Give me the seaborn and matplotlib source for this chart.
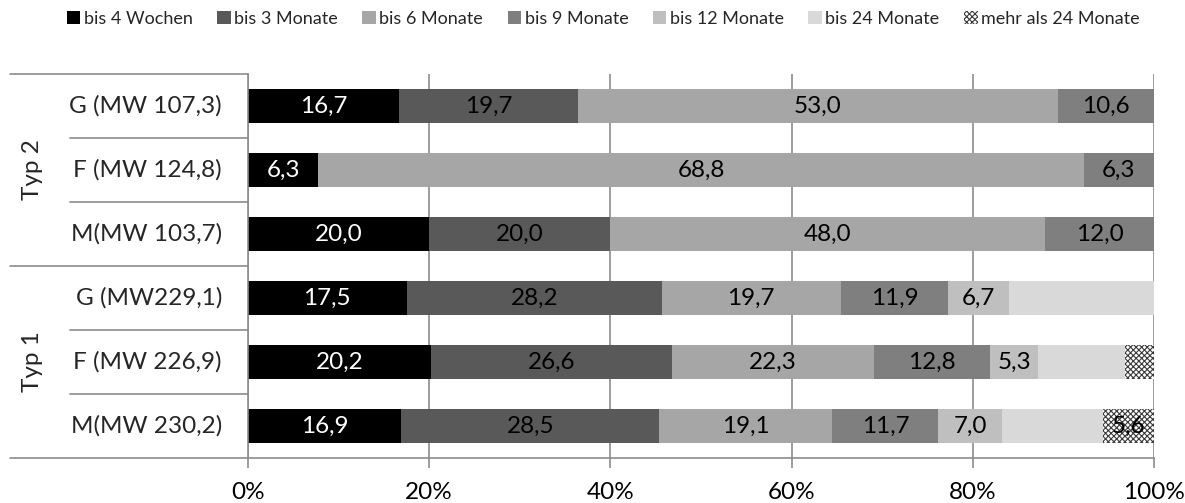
import numpy as np
import matplotlib
matplotlib.use("Agg")
import matplotlib.pyplot as plt
import seaborn as sns
from matplotlib.patches import Patch
from matplotlib.transforms import blended_transform_factory

# Rows from top to bottom, grouped by type
rows = ["G (MW 107,3)", "F (MW 124,8)", "M(MW 103,7)",
        "G (MW229,1)", "F (MW 226,9)", "M(MW 230,2)"]
groups = ["Typ 2", "Typ 1"]
group_rows = [(0, 2), (3, 5)]

periods = ["bis 4 Wochen", "bis 3 Monate", "bis 6 Monate", "bis 9 Monate",
           "bis 12 Monate", "bis 24 Monate", "mehr als 24 Monate"]

bis_4_wochen = [16.7, 6.3, 20.0, 17.5, 20.2, 16.9]
bis_3_monate = [19.7, 0.0, 20.0, 28.2, 26.6, 28.5]
bis_6_monate = [53.0, 68.8, 48.0, 19.7, 22.3, 19.1]
bis_9_monate = [10.6, 6.3, 12.0, 11.9, 12.8, 11.7]
bis_12_monate = [0.0, 0.0, 0.0, 6.7, 5.3, 7.0]
bis_24_monate = [0.0, 0.0, 0.0, 16.0, 9.6, 11.2]
mehr_24_monate = [0.0, 0.0, 0.0, 0.0, 3.2, 5.6]

# segments printed without a value label: (period index, row index)
unlabelled = {(5, 3), (5, 4), (5, 5), (6, 4)}

colors = ["#000000", "#595959", "#a6a6a6", "#7f7f7f", "#bfbfbf", "#d9d9d9", "#ffffff"]

series = [bis_4_wochen, bis_3_monate, bis_6_monate, bis_9_monate,
          bis_12_monate, bis_24_monate, mehr_24_monate]
values = np.array(series, dtype=float)
totals = values.sum(axis=0)

sns.set_theme(style="white")
plt.rcParams["font.family"] = ["Lato", "DejaVu Sans"]
plt.rcParams["hatch.linewidth"] = 0.8

fig = plt.figure(figsize=(11.85, 5.03), dpi=100)
ax = fig.add_axes([248 / 1185, 1 - 458 / 503, 906 / 1185, 384 / 503])

FS = 17.5
grid_col = "#8c8c8c"
left = np.zeros(len(rows))
for k, (name, vals, col) in enumerate(zip(periods, values, colors)):
    share = vals / totals * 100
    if k == 6:
        extra = dict(hatch="xxxxxx", edgecolor="#3a3a3a", linewidth=0)
    else:
        extra = dict(linewidth=0)
    sns.barplot(x=share, y=rows, order=rows, orient="h", color=col,
                saturation=1, width=0.52, errorbar=None, left=left.copy(),
                ax=ax, **extra)
    for i, (v, s) in enumerate(zip(vals, share)):
        if v > 0 and (k, i) not in unlabelled:
            ax.text(left[i] + s / 2, i, f"{v:.1f}".replace(".", ","),
                    ha="center", va="center", fontsize=FS,
                    color="white" if k == 0 else "black")
    left += share

ax.set_xlim(0, 100)
ax.set_ylim(5.5, -0.5)
ax.set_yticks([])
ax.set_xlabel("")
ax.set_ylabel("")
ax.set_xticks(np.arange(0, 101, 20))
ax.set_xticklabels([f"{t}%" for t in range(0, 101, 20)], fontsize=FS)
ax.tick_params(axis="x", length=7, width=1.2, color=grid_col, pad=10,
               labelcolor="black", bottom=True)
ax.xaxis.grid(True, color=grid_col, linewidth=1.2)
ax.set_axisbelow(True)
for side in ["top", "right"]:
    ax.spines[side].set_visible(False)
for side in ["left", "bottom"]:
    ax.spines[side].set_color(grid_col)
    ax.spines[side].set_linewidth(1.2)

# category table on the left
trans = blended_transform_factory(ax.transAxes, ax.transData)
x_outer = (10 - 248) / 906
x_inner = (70 - 248) / 906
for b in [-0.5, 2.5, 5.5]:
    ax.plot([x_outer, 0], [b, b], transform=trans, clip_on=False,
            color=grid_col, linewidth=1.2)
for b in [0.5, 1.5, 3.5, 4.5]:
    ax.plot([x_inner, 0], [b, b], transform=trans, clip_on=False,
            color=grid_col, linewidth=1.2)
for i, r in enumerate(rows):
    ax.text((222 - 248) / 906, i, r, transform=trans, ha="right", va="center",
            fontsize=FS)
for g, (a, b) in zip(groups, group_rows):
    ax.text((33 - 248) / 906, (a + b) / 2, g, transform=trans, ha="center",
            va="center", rotation=90, fontsize=FS)

handles = []
for k, col in enumerate(colors):
    if k == 6:
        handles.append(Patch(facecolor=col, edgecolor="#3a3a3a", hatch="xxxxxx",
                             linewidth=0))
    else:
        handles.append(Patch(facecolor=col, linewidth=0))
fig.legend(handles, periods, loc="center", bbox_to_anchor=(0.509, 0.963),
           ncol=7, frameon=False, fontsize=13, handlelength=0.75,
           handleheight=0.75, handletextpad=0.2, columnspacing=1.35)

fig.savefig("out.png", dpi=100)
